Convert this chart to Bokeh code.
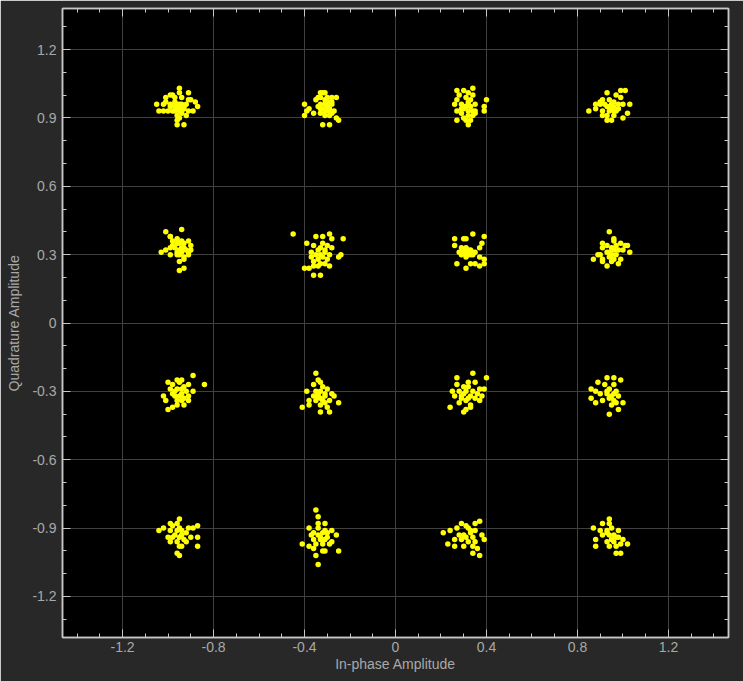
from bokeh.plotting import figure
from bokeh.models import (Range1d, LinearAxis, SingleIntervalTicker, CustomJSTickFormatter,
                          ColumnDataSource, Grid, CustomLabelingPolicy)
from bokeh.embed import file_html
from bokeh.resources import INLINE

# ---- data: received 16-QAM symbols (I, Q) per constellation cluster ----
c11 = [(-0.95,1.03),(-1.05,0.96),(-0.99,1.00),(-0.98,1.00),(-1.01,0.99),(-0.95,1.01),(-0.91,1.01),(-0.97,0.99),
       (-0.94,0.99),(-0.90,0.98),(-0.88,0.97),(-0.87,0.95),(-1.02,0.96),(-0.99,0.96),(-0.97,0.97),(-0.95,0.96),
       (-0.92,0.96),(-1.04,0.93),(-1.02,0.93),(-0.98,0.93),(-0.96,0.94),(-0.93,0.95),(-0.91,0.93),(-0.89,0.93),
       (-0.96,0.91),(-0.94,0.92),(-0.92,0.91),(-0.96,0.89),(-0.96,0.87),(-0.93,0.87),(-1.01,0.97),(-0.99,0.95),
       (-0.94,0.93),(-0.97,0.93),(-0.91,0.98),(-0.95,0.90),(-1.00,0.93),(-0.95,0.95),(-0.94,0.96),(-0.96,0.94),
       (-0.93,0.94),(-0.95,0.93),(-0.96,0.96),(-0.97,0.95)]
c12 = [(-0.32,1.01),(-0.33,1.01),(-0.31,1.01),(-0.34,0.99),(-0.35,0.98),(-0.33,0.99),(-0.30,0.99),(-0.28,0.97),
       (-0.26,0.99),(-0.28,0.96),(-0.33,0.96),(-0.31,0.96),(-0.30,0.95),(-0.34,0.95),(-0.40,0.96),(-0.38,0.94),
       (-0.39,0.93),(-0.40,0.91),(-0.36,0.92),(-0.33,0.92),(-0.31,0.93),(-0.28,0.92),(-0.27,0.93),(-0.31,0.91),
       (-0.29,0.91),(-0.26,0.90),(-0.25,0.89),(-0.32,0.87),(-0.29,0.87),(-0.32,0.94),(-0.31,0.98),(-0.29,0.94),
       (-0.33,0.94),(-0.28,0.99),(-0.30,0.96),(-0.29,0.97),(-0.30,0.93)]
c13 = [(0.34,1.03),(0.30,1.02),(0.27,1.02),(0.32,1.01),(0.34,1.00),(0.28,1.00),(0.31,0.99),(0.33,0.98),
       (0.27,0.98),(0.26,0.96),(0.29,0.96),(0.32,0.96),(0.35,0.96),(0.40,0.98),(0.39,0.95),(0.39,0.93),
       (0.27,0.93),(0.30,0.94),(0.32,0.93),(0.35,0.93),(0.29,0.92),(0.32,0.91),(0.34,0.91),(0.35,0.92),
       (0.31,0.89),(0.33,0.89),(0.27,0.89),(0.32,0.87),(0.30,0.95),(0.32,0.97),(0.30,0.90),(0.34,0.93),
       (0.31,0.95),(0.33,0.95),(0.29,0.94)]
c14 = [(0.99,1.02),(1.01,1.02),(0.93,1.01),(0.97,1.00),(0.99,0.99),(0.91,0.98),(0.94,0.98),(0.96,0.97),
       (0.88,0.96),(0.90,0.96),(1.03,0.96),(1.00,0.96),(0.93,0.95),(0.96,0.95),(0.98,0.94),(0.88,0.94),
       (0.85,0.93),(0.91,0.93),(0.94,0.93),(0.97,0.93),(1.02,0.92),(1.00,0.90),(0.91,0.91),(0.93,0.91),
       (0.96,0.91),(0.93,0.89),(0.95,0.89),(0.95,0.96),(0.98,0.96),(0.90,0.97),(0.96,0.93),(0.94,0.95),
       (0.95,0.94),(0.92,0.96)]
c21 = [(-0.94,0.41),(-1.01,0.40),(-0.99,0.38),(-0.99,0.38),(-0.96,0.37),(-0.91,0.36),(-0.98,0.36),(-0.95,0.35),
       (-0.93,0.35),(-0.90,0.34),(-0.99,0.33),(-0.97,0.33),(-0.94,0.33),(-0.92,0.32),(-0.90,0.32),(-1.01,0.32),
       (-1.03,0.31),(-0.96,0.31),(-0.94,0.31),(-0.91,0.30),(-0.99,0.30),(-0.96,0.30),(-0.93,0.29),(-0.95,0.27),
       (-0.93,0.28),(-0.93,0.24),(-0.95,0.23),(-0.96,0.35),(-0.94,0.36),(-0.98,0.34),(-0.91,0.31),(-0.95,0.32),
       (-0.93,0.33),(-0.95,0.30)]
c22 = [(-0.45,0.39),(-0.35,0.38),(-0.32,0.38),(-0.29,0.39),(-0.23,0.37),(-0.28,0.37),(-0.39,0.35),(-0.36,0.34),
       (-0.32,0.35),(-0.30,0.34),(-0.28,0.33),(-0.37,0.31),(-0.34,0.32),(-0.31,0.31),(-0.29,0.30),(-0.37,0.29),
       (-0.35,0.30),(-0.32,0.29),(-0.30,0.28),(-0.24,0.30),(-0.25,0.29),(-0.36,0.27),(-0.33,0.26),(-0.31,0.26),
       (-0.29,0.25),(-0.36,0.25),(-0.34,0.25),(-0.40,0.24),(-0.38,0.24),(-0.36,0.21),(-0.33,0.21),(-0.33,0.33),
       (-0.31,0.32),(-0.33,0.30),(-0.34,0.28)]
c23 = [(0.34,0.39),(0.39,0.38),(0.26,0.37),(0.30,0.37),(0.31,0.37),(0.38,0.35),(0.26,0.34),(0.37,0.33),
       (0.29,0.33),(0.31,0.33),(0.33,0.32),(0.35,0.31),(0.28,0.31),(0.30,0.31),(0.33,0.30),(0.29,0.30),
       (0.31,0.29),(0.34,0.30),(0.37,0.29),(0.39,0.28),(0.27,0.26),(0.31,0.24),(0.33,0.26),(0.35,0.26),
       (0.37,0.25),(0.39,0.26),(0.32,0.32),(0.30,0.32),(0.34,0.31),(0.31,0.31),(0.32,0.30)]
c24 = [(0.94,0.40),(0.96,0.37),(0.99,0.35),(0.91,0.35),(0.93,0.34),(0.97,0.34),(1.01,0.34),(1.02,0.34),
       (0.91,0.33),(0.96,0.32),(1.03,0.31),(1.00,0.32),(0.90,0.30),(0.94,0.31),(0.97,0.30),(0.89,0.30),
       (0.87,0.28),(0.91,0.28),(0.94,0.29),(0.96,0.28),(0.91,0.27),(0.93,0.25),(0.95,0.27),(0.98,0.26),
       (0.99,0.28),(0.96,0.36),(0.93,0.31),(0.98,0.32),(0.95,0.33),(0.95,0.30)]
c31 = [(-0.89,-0.23),(-0.84,-0.27),(-1.00,-0.26),(-0.96,-0.25),(-0.94,-0.25),(-0.98,-0.27),(-0.95,-0.26),(-0.91,-0.27),
       (-0.93,-0.28),(-0.99,-0.29),(-0.96,-0.29),(-0.89,-0.30),(-0.92,-0.30),(-1.02,-0.32),(-0.98,-0.31),(-0.94,-0.31),
       (-0.91,-0.32),(-1.01,-0.34),(-0.96,-0.34),(-0.94,-0.34),(-0.91,-0.34),(-0.96,-0.36),(-0.93,-0.36),(-1.00,-0.38),
       (-0.98,-0.37),(-0.97,-0.30),(-0.94,-0.29),(-0.95,-0.32),(-0.93,-0.33),(-0.97,-0.32)]
c32 = [(-0.35,-0.22),(-0.34,-0.25),(-0.33,-0.26),(-0.36,-0.27),(-0.32,-0.28),(-0.30,-0.29),(-0.39,-0.30),(-0.35,-0.30),
       (-0.33,-0.30),(-0.28,-0.31),(-0.36,-0.32),(-0.34,-0.32),(-0.31,-0.32),(-0.27,-0.32),(-0.38,-0.34),(-0.35,-0.34),
       (-0.32,-0.34),(-0.29,-0.34),(-0.25,-0.35),(-0.41,-0.37),(-0.38,-0.36),(-0.33,-0.36),(-0.30,-0.37),(-0.33,-0.39),
       (-0.29,-0.39),(-0.31,-0.31),(-0.34,-0.31),(-0.33,-0.33),(-0.31,-0.35)]
c33 = [(0.34,-0.22),(0.40,-0.24),(0.27,-0.24),(0.27,-0.27),(0.32,-0.26),(0.35,-0.26),(0.30,-0.28),(0.32,-0.28),
       (0.37,-0.29),(0.39,-0.29),(0.25,-0.30),(0.28,-0.30),(0.31,-0.30),(0.34,-0.30),(0.36,-0.31),(0.26,-0.32),
       (0.29,-0.32),(0.33,-0.32),(0.35,-0.33),(0.38,-0.32),(0.28,-0.35),(0.31,-0.34),(0.33,-0.36),(0.37,-0.34),
       (0.24,-0.37),(0.33,-0.37),(0.31,-0.38),(0.30,-0.39),(0.30,-0.31),(0.32,-0.33),(0.29,-0.33)]
c34 = [(0.93,-0.24),(0.96,-0.24),(0.99,-0.25),(0.89,-0.26),(0.92,-0.27),(0.96,-0.27),(0.86,-0.29),(0.88,-0.30),
       (0.94,-0.29),(0.97,-0.30),(0.90,-0.31),(0.93,-0.31),(0.98,-0.32),(0.86,-0.33),(0.91,-0.34),(0.96,-0.34),
       (1.00,-0.35),(0.88,-0.35),(0.95,-0.36),(0.98,-0.38),(0.94,-0.40),(0.97,-0.35),(0.93,-0.30),(0.95,-0.32),
       (0.94,-0.33),(0.96,-0.31)]
c41 = [(-0.95,-0.86),(-0.99,-0.88),(-1.02,-0.90),(-1.04,-0.91),(-0.98,-0.89),(-0.96,-0.88),(-0.91,-0.90),(-0.89,-0.90),
       (-0.87,-0.89),(-0.94,-0.91),(-0.99,-0.91),(-0.96,-0.91),(-0.92,-0.92),(-1.00,-0.94),(-0.98,-0.94),(-0.94,-0.93),
       (-0.90,-0.94),(-0.87,-0.94),(-0.99,-0.96),(-0.96,-0.96),(-0.92,-0.96),(-0.95,-0.98),(-0.94,-0.98),(-0.87,-0.98),
       (-0.96,-1.01),(-0.95,-1.02),(-0.95,-0.90),(-0.97,-0.93),(-0.95,-0.94),(-0.93,-0.95)]
c42 = [(-0.35,-0.82),(-0.34,-0.85),(-0.34,-0.88),(-0.31,-0.88),(-0.38,-0.90),(-0.34,-0.90),(-0.28,-0.91),(-0.31,-0.91),
       (-0.37,-0.93),(-0.34,-0.93),(-0.32,-0.92),(-0.30,-0.94),(-0.26,-0.93),(-0.36,-0.95),(-0.33,-0.95),(-0.31,-0.95),
       (-0.28,-0.96),(-0.41,-0.97),(-0.38,-0.98),(-0.35,-0.97),(-0.32,-0.97),(-0.29,-0.97),(-0.25,-1.00),(-0.36,-0.99),
       (-0.32,-1.00),(-0.31,-1.00),(-0.35,-1.02),(-0.34,-1.06),(-0.33,-0.94),(-0.36,-0.92),(-0.32,-0.95),(-0.30,-0.92)]
c43 = [(0.37,-0.87),(0.35,-0.88),(0.29,-0.88),(0.27,-0.90),(0.24,-0.91),(0.21,-0.92),(0.31,-0.89),(0.33,-0.91),
       (0.35,-0.91),(0.38,-0.93),(0.28,-0.93),(0.30,-0.93),(0.34,-0.94),(0.39,-0.95),(0.26,-0.95),(0.29,-0.95),
       (0.32,-0.96),(0.35,-0.96),(0.23,-0.97),(0.26,-0.98),(0.30,-0.98),(0.34,-0.98),(0.36,-0.99),(0.34,-1.01),
       (0.37,-1.02),(0.33,-0.92),(0.31,-0.94),(0.32,-0.90)]
c44 = [(0.94,-0.86),(0.91,-0.88),(0.94,-0.88),(0.87,-0.90),(0.90,-0.91),(0.93,-0.91),(0.95,-0.90),(0.98,-0.91),
       (0.91,-0.93),(0.94,-0.93),(0.97,-0.94),(1.00,-0.95),(0.88,-0.95),(0.93,-0.96),(0.96,-0.96),(0.99,-0.97),
       (1.02,-0.97),(0.88,-0.98),(0.94,-0.98),(0.97,-0.98),(0.97,-1.01),(0.99,-1.01),(0.93,-0.92),(0.98,-0.94),
       (0.95,-0.95),(0.96,-0.93)]

clusters = [c11, c12, c13, c14, c21, c22, c23, c24, c31, c32, c33, c34, c41, c42, c43, c44]
in_phase = [p[0] for c in clusters for p in c]
quadrature = [p[1] for c in clusters for p in c]

x_label = "In-phase Amplitude"
y_label = "Quadrature Amplitude"

# ---- styling ----
BG = "#282828"
AX = "#c8c8c8"
TXT = "#a8a8a8"
GRID = "#404040"
FONT = "Liberation Sans"

p = figure(width=743, height=681, output_backend="svg", toolbar_location=None,
           x_range=Range1d(-1.464, 1.464), y_range=Range1d(-1.38, 1.38),
           x_axis_location=None, y_axis_location=None,
           min_border_left=62, min_border_right=15, min_border_top=8, min_border_bottom=44)
# drop the default grids; custom ones are added below
p.center = [r for r in p.center if not isinstance(r, Grid)]
p.background_fill_color = "black"
p.border_fill_color = BG
p.outline_line_color = AX
p.outline_line_width = 1.5

fmt = CustomJSTickFormatter(code="return String(Math.round(tick*10)/10);")
hide_labels = CustomLabelingPolicy(code="""
const all = [...indices];
for (const i of all) indices.unset(i);
return indices;
""")

def make_axis(interval, minors, show_labels, label=None, tick_standoff=4, label_standoff=1):
    ax = LinearAxis(ticker=SingleIntervalTicker(interval=interval, num_minor_ticks=minors), formatter=fmt)
    ax.axis_line_color = AX
    ax.axis_line_width = 1.5
    ax.major_tick_line_color = AX
    ax.minor_tick_line_color = AX
    ax.major_tick_in = 8
    ax.major_tick_out = 0
    ax.minor_tick_in = 4
    ax.minor_tick_out = 0
    if show_labels:
        ax.major_label_text_font = FONT
        ax.major_label_text_font_size = "14px"
        ax.major_label_text_color = TXT
        ax.major_label_standoff = tick_standoff
        ax.axis_label = label
        ax.axis_label_text_font = FONT
        ax.axis_label_text_font_size = "14px"
        ax.axis_label_text_font_style = "normal"
        ax.axis_label_text_color = TXT
        ax.axis_label_standoff = label_standoff
    else:
        ax.major_label_policy = hide_labels
        ax.major_label_text_font_size = "1px"
        ax.major_label_standoff = 0
        ax.axis_label_standoff = 0
    return ax

p.add_layout(make_axis(0.4, 4, True, x_label, tick_standoff=4, label_standoff=1), "below")
p.add_layout(make_axis(0.3, 3, True, y_label, tick_standoff=6, label_standoff=7), "left")
p.add_layout(make_axis(0.4, 4, False), "above")
p.add_layout(make_axis(0.3, 3, False), "right")

p.add_layout(Grid(dimension=0, ticker=SingleIntervalTicker(interval=0.4), grid_line_color=GRID, grid_line_width=1))
p.add_layout(Grid(dimension=1, ticker=SingleIntervalTicker(interval=0.3), grid_line_color=GRID, grid_line_width=1))

src = ColumnDataSource(dict(i=in_phase, q=quadrature))
p.scatter("i", "q", source=src, size=5.5, fill_color="#ffff00", line_color=None)

open("out.html", "w").write(file_html(p, INLINE))
